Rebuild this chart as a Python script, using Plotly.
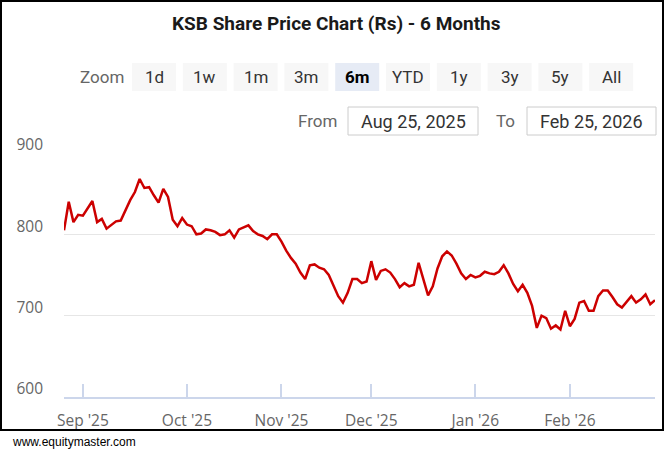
import plotly.graph_objects as go

# ---------------- data ----------------
title_text = "KSB Share Price Chart (Rs) - 6 Months"
prices = [
    805, 840, 815, 824, 823, 832, 841, 815, 819, 807,
    811, 816, 817, 830, 842, 852, 868, 857, 858, 848,
    839, 856, 846, 818, 810, 820, 812, 810, 800, 801,
    806, 805, 803, 799, 800, 805, 796, 806, 809, 811,
    804, 800, 798, 794, 800, 800, 791, 780, 771, 764,
    753, 745, 762, 763, 759, 757, 750, 736, 724, 716,
    728, 745, 745, 740, 742, 767, 744, 755, 757, 753,
    745, 735, 740, 736, 738, 765, 745, 725, 736, 758,
    773, 779, 774, 764, 752, 745, 750, 747, 749, 754,
    752, 751, 754, 762, 752, 739, 730, 738, 728, 712,
    685, 700, 697, 684, 688, 683, 706, 687, 696, 716,
    718, 706, 706, 724, 731, 731, 723, 714, 710, 717,
    724, 716, 720, 726, 714, 719,
]
month_labels = ["Sep '25", "Oct '25", "Nov '25", "Dec '25", "Jan '26", "Feb '26"]
month_start_index = [4, 26, 46, 65, 87, 107]
y_ticks = [600, 700, 800, 900]
zoom_buttons = ["1d", "1w", "1m", "3m", "6m", "YTD", "1y", "3y", "5y", "All"]
selected_button = "6m"
date_from = "Aug 25, 2025"
date_to = "Feb 25, 2026"
source_text = "www.equitymaster.com"

# ---------------- layout helpers ----------------
W, H = 664, 452
L, R, T, B = 64, 9, 153, 55
PW, PH = W - L - R, H - T - B


def px(x):
    return (x - L) / PW


def py(y):
    return (H - B - y) / PH


UI_FONT = "Roboto"
AXIS_FONT = "Open Sans"

fig = go.Figure()
fig.add_trace(go.Scatter(
    x=list(range(len(prices))), y=prices, mode="lines",
    line=dict(color="#cc0000", width=2.5), hoverinfo="skip", showlegend=False,
))

shapes = []
annotations = []

# outer border
shapes.append(dict(type="rect", xref="paper", yref="paper",
                   x0=px(1), x1=px(663), y0=py(1), y1=py(430),
                   line=dict(color="black", width=2), fillcolor="rgba(0,0,0,0)", layer="above"))

# title
annotations.append(dict(text="<b>" + title_text + "</b>", xref="paper", yref="paper",
                        x=px(336), y=py(24), showarrow=False, xanchor="center", yanchor="middle",
                        font=dict(family=UI_FONT, size=19, color="#1a1a1a")))

# zoom row
annotations.append(dict(text="Zoom", xref="paper", yref="paper", x=px(102), y=py(77),
                        showarrow=False, xanchor="center", yanchor="middle",
                        font=dict(family=UI_FONT, size=17, color="#666666")))
for i, lab in enumerate(zoom_buttons):
    x0 = 132 + 50.8 * i
    sel = lab == selected_button
    shapes.append(dict(type="rect", xref="paper", yref="paper",
                       x0=px(x0), x1=px(x0 + 44), y0=py(63), y1=py(91),
                       line=dict(width=0), fillcolor="#e6ebf5" if sel else "#f7f7f7"))
    annotations.append(dict(text=("<b>%s</b>" % lab) if sel else lab, xref="paper", yref="paper",
                            x=px(x0 + 22), y=py(77), showarrow=False,
                            xanchor="center", yanchor="middle",
                            font=dict(family=UI_FONT, size=17, color="#000000" if sel else "#333333")))

# date range inputs
annotations.append(dict(text="From", xref="paper", yref="paper", x=px(317), y=py(121),
                        showarrow=False, xanchor="center", yanchor="middle",
                        font=dict(family=UI_FONT, size=17, color="#666666")))
annotations.append(dict(text="To", xref="paper", yref="paper", x=px(505), y=py(121),
                        showarrow=False, xanchor="center", yanchor="middle",
                        font=dict(family=UI_FONT, size=17, color="#666666")))
for (bx0, bx1, txt) in [(348, 478, date_from), (527, 656, date_to)]:
    shapes.append(dict(type="rect", xref="paper", yref="paper",
                       x0=px(bx0), x1=px(bx1), y0=py(107), y1=py(135),
                       line=dict(color="#cccccc", width=1), fillcolor="white"))
    annotations.append(dict(text=txt, xref="paper", yref="paper", x=px((bx0 + bx1) / 2), y=py(121),
                            showarrow=False, xanchor="center", yanchor="middle",
                            font=dict(family=UI_FONT, size=18, color="#333333")))

# footer
annotations.append(dict(text=source_text, xref="paper", yref="paper", x=px(10), y=py(442),
                        showarrow=False, xanchor="left", yanchor="middle",
                        font=dict(family="Liberation Sans", size=12, color="#000000")))

fig.update_layout(
    width=W, height=H, margin=dict(l=L, r=R, t=T, b=B, autoexpand=False),
    paper_bgcolor="white", plot_bgcolor="white",
    shapes=shapes, annotations=annotations, showlegend=False,
    xaxis=dict(range=[0, len(prices) - 1], tickmode="array", tickvals=month_start_index,
               ticktext=month_labels, showgrid=False, zeroline=False,
               showline=True, linecolor="#ccd6eb", linewidth=2,
               ticks="inside", ticklen=13, tickcolor="#ccd6eb", tickwidth=1.5,
               tickfont=dict(family=AXIS_FONT, size=15.5, color="#666666"),
               ticklabelstandoff=8, fixedrange=True),
    yaxis=dict(range=[600, 900], tickmode="array", tickvals=y_ticks,
               showgrid=True, gridcolor="#e6e6e6", gridwidth=1, zeroline=False,
               showline=False, ticks="",
               tickfont=dict(family=AXIS_FONT, size=15.5, color="#666666"),
               ticklabelstandoff=20, ticklabelshift=-8, fixedrange=True),
)

fig.write_html("out.html")
